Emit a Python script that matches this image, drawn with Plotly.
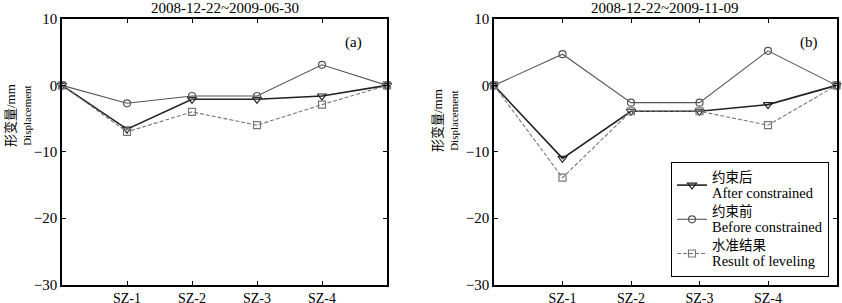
import plotly.graph_objects as go

# ---- data ----
x_pos = [0, 1, 2, 3, 4, 5]
tick_vals = [1, 2, 3, 4]
tick_text = ["SZ-1", "SZ-2", "SZ-3", "SZ-4"]
y_ticks = [-30, -20, -10, 0, 10]

a_after = [0, -6.6, -2.1, -2.1, -1.6, 0]
a_before = [0, -2.7, -1.6, -1.6, 3.1, 0]
a_level = [0, -7.0, -4.0, -6.0, -2.9, 0]

b_after = [0, -11.0, -3.9, -3.9, -2.9, 0]
b_before = [0, 4.7, -2.6, -2.6, 5.2, 0]
b_level = [0, -13.9, -3.9, -3.9, -6.0, 0]

titles = ["2008-12-22~2009-06-30", "2008-12-22~2009-11-09"]
names_cn = ["约束后", "约束前", "水准结果"]
names_en = ["After constrained", "Before constrained", "Result of leveling"]
ytitle_cn = "形变量/mm"
ytitle_en = "Displacement"

FONT = "Liberation Serif, Times New Roman, Noto Sans CJK SC"

fig = go.Figure()

styles = [
    dict(color="#222222", width=1.6, dash="solid", symbol="triangle-down-open", size=8),
    dict(color="#555555", width=1.1, dash="solid", symbol="circle-open", size=7),
    dict(color="#777777", width=1.1, dash="4px,2px", symbol="square-open", size=7),
]

panels = [
    ("x", "y", [a_after, a_before, a_level], False),
    ("x2", "y2", [b_after, b_before, b_level], True),
]

for xa, ya, series, show in panels:
    for s, cn, en, st in zip(series, names_cn, names_en, styles):
        nm = (f'<span style="font-size:13.5px">{cn}</span><br>'
              f'<span style="font-size:14.5px">{en}</span>')
        fig.add_trace(go.Scatter(
            x=x_pos, y=s, xaxis=xa, yaxis=ya, name=nm, showlegend=show,
            mode="lines+markers", cliponaxis=False,
            line=dict(color=st["color"], width=st["width"], dash=st["dash"]),
            marker=dict(symbol=st["symbol"], size=st["size"], color=st["color"],
                        line=dict(color=st["color"], width=1.2)),
        ))

H, W = 303, 842
y_dom = [1 - 284.5 / H, 1 - 19 / H]
xd1 = [62 / W, 387 / W]
xd2 = [494 / W, 836.5 / W]

axis_common = dict(
    showline=True, linecolor="black", linewidth=1.5, mirror="ticks",
    ticks="inside", ticklen=4, tickcolor="black", tickwidth=1,
    showgrid=False, zeroline=False, automargin=False,
)
xfont = dict(family=FONT, size=14, color="black")
yfont = dict(family=FONT, size=15, color="black")

fig.update_layout(
    width=W, height=H,
    margin=dict(l=0, r=0, t=0, b=0, autoexpand=False),
    paper_bgcolor="white", plot_bgcolor="white",
    font=dict(family=FONT, color="black"),
    xaxis=dict(domain=xd1, range=[0, 5], tickvals=tick_vals, ticktext=tick_text, anchor="y",
               tickfont=xfont, **axis_common),
    yaxis=dict(domain=y_dom, range=[-30, 10], tickvals=y_ticks, anchor="x",
               tickfont=yfont, **axis_common),
    xaxis2=dict(domain=xd2, range=[0, 5], tickvals=tick_vals, ticktext=tick_text, anchor="y2",
                tickfont=xfont, **axis_common),
    yaxis2=dict(domain=y_dom, range=[-30, 10], tickvals=y_ticks, anchor="x2",
                tickfont=yfont, **axis_common),
    showlegend=True,
    legend=dict(
        x=829 / W, y=1 - 277 / H, xanchor="right", yanchor="bottom",
        bordercolor="black", borderwidth=1, bgcolor="white",
        font=dict(family=FONT, size=12, color="black"),
        tracegroupgap=0, itemwidth=30, valign="middle",
    ),
)

ytitle = (f'<span style="font-size:13px">{ytitle_cn}</span><br>'
          f'<span style="font-size:11px">{ytitle_en}</span>')

annotations = [
    dict(text=titles[0], x=(xd1[0] + xd1[1]) / 2, y=1 - 8.5 / H, xref="paper", yref="paper",
         xanchor="center", yanchor="middle", showarrow=False, font=dict(family=FONT, size=15)),
    dict(text=titles[1], x=(xd2[0] + xd2[1]) / 2, y=1 - 8.5 / H, xref="paper", yref="paper",
         xanchor="center", yanchor="middle", showarrow=False, font=dict(family=FONT, size=15)),
    dict(text="(a)", x=4.48, y=6.5, xref="x", yref="y", showarrow=False,
         xanchor="center", yanchor="middle", font=dict(family=FONT, size=15)),
    dict(text="(b)", x=4.6, y=6.5, xref="x2", yref="y2", showarrow=False,
         xanchor="center", yanchor="middle", font=dict(family=FONT, size=15)),
    dict(text=ytitle, x=18 / W, y=1 - 116 / H, xref="paper", yref="paper",
         xanchor="center", yanchor="middle",
         textangle=-90, showarrow=False, font=dict(family=FONT, size=12)),
    dict(text=ytitle, x=445 / W, y=1 - 121 / H, xref="paper", yref="paper",
         xanchor="center", yanchor="middle",
         textangle=-90, showarrow=False, font=dict(family=FONT, size=12)),
]
fig.update_layout(annotations=annotations)

fig.write_html("out.html", config={"displayModeBar": False},
               post_script="document.body.style.margin='0';")
